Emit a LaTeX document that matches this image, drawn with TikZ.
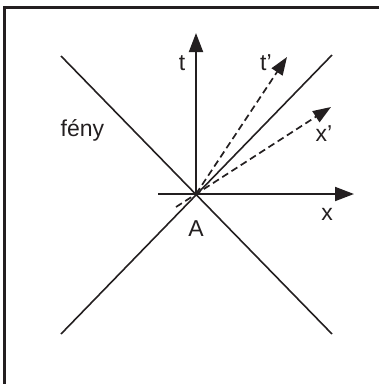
\documentclass[tikz,border=0pt]{standalone}
\usepackage{fontspec}
\setmainfont{Liberation Sans}
\usetikzlibrary{arrows.meta}
\definecolor{ink}{HTML}{231F20}
\begin{document}
\begin{tikzpicture}[x=1pt,y=-1pt,color=ink,
  light/.style={line width=1.6pt},
  axisline/.style={line width=1.9pt,-{Triangle[length=19pt,width=14pt]}},
  primeline/.style={line width=1.7pt,dash pattern=on 7pt off 4pt,-{Triangle[length=18pt,width=13pt]}},
  lbl/.style={font=\fontsize{23}{27}\selectfont,inner sep=0pt,anchor=base,text=ink}]
\useasboundingbox (0,0) rectangle (379,384);
\coordinate (fb) at (4.5,384);
\coordinate (fc) at (4.5,7.5);
\coordinate (fr) at (379,7.5);
\draw[line width=3pt,line join=miter] (fb) -- (fc) -- (fr);
\coordinate (A) at (196,194);
\coordinate (l1a) at (61,56);
\coordinate (l1b) at (332,334);
\coordinate (l2a) at (61,334);
\coordinate (l2b) at (332,55);
\draw[light] (l1a) -- (l1b);
\draw[light] (l2a) -- (l2b);
\coordinate (xs) at (158,194);
\coordinate (xe) at (354,194);
\coordinate (te) at (196,33);
\draw[axisline] (xs) -- (xe);
\draw[axisline] (A) -- (te);
\coordinate (tpe) at (287,57);
\coordinate (xps) at (176,207);
\coordinate (xpe) at (331,107);
\draw[primeline] (A) -- (tpe);
\draw[primeline] (xps) -- (xpe);
\node[lbl] (lt) at (182,70.5) {t};
\node[lbl,anchor=base west] (ltp) at (260,70.7) {t’};
\node[lbl,anchor=base west] (lxp) at (315.5,141.7) {x’};
\node[lbl] (lx) at (327,220.5) {x};
\node[lbl] (lA) at (196,236) {A};
\node[lbl,anchor=base west] (lf) at (60.5,136.5) {fény};
\end{tikzpicture}
\end{document}
